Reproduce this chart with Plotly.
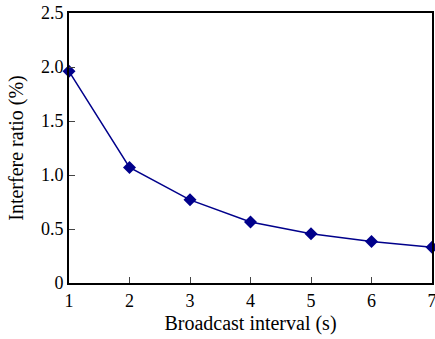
import plotly.graph_objects as go

intervals = [1, 2, 3, 4, 5, 6, 7]
interfere_ratio = [1.96, 1.07, 0.77, 0.565, 0.455, 0.385, 0.33]
y_ticks = [0, 0.5, 1.0, 1.5, 2.0, 2.5]
y_tick_labels = ["0", "0.5", "1.0", "1.5", "2.0", "2.5"]
x_ticks = [1, 2, 3, 4, 5, 6, 7]

fig = go.Figure()
fig.add_trace(go.Scatter(
    x=intervals, y=interfere_ratio, mode="lines+markers",
    line=dict(color="#00008B", width=1.5),
    marker=dict(symbol="diamond", size=10, color="#00008B"),
    cliponaxis=False, showlegend=False,
))

font = dict(family="Liberation Serif", size=17, color="black")
tickfont = dict(family="Liberation Serif", size=18, color="black")
fig.update_layout(
    width=435, height=339,
    margin=dict(l=69, r=3, t=13, b=56),
    paper_bgcolor="white", plot_bgcolor="white",
    font=font,
)
fig.update_xaxes(
    range=[1, 7], tickvals=x_ticks, ticks="inside", ticklen=6, tickwidth=1,
    tickfont=tickfont, ticklabeloverflow="allow",
    showline=True, linewidth=2, linecolor="black", mirror=True,
    showgrid=False, zeroline=False, automargin=False,
    title=dict(text="Broadcast interval (s)", standoff=6),
)
fig.update_yaxes(
    range=[0, 2.5], tickvals=y_ticks, ticktext=y_tick_labels,
    ticks="inside", ticklen=6, tickwidth=1,
    tickfont=tickfont, ticklabeloverflow="allow",
    showline=True, linewidth=2, linecolor="black", mirror=True,
    showgrid=False, zeroline=False, automargin=False,
    title=dict(text="Interfere ratio (%)", standoff=12),
)
fig.write_html(
    "out.html",
    config={"displayModeBar": False},
    post_script="document.body.style.margin='0';document.body.style.overflow='hidden';",
)
